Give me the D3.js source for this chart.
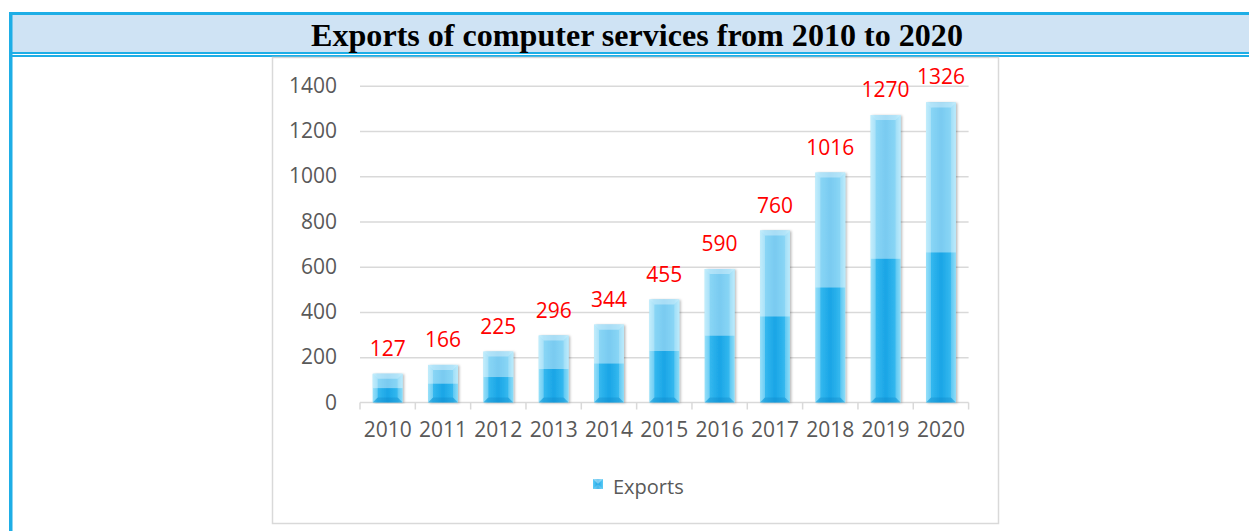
<!DOCTYPE html>
<html>
<head>
<meta charset="utf-8">
<script src="https://cdn.jsdelivr.net/npm/d3@7"></script>
<style>
  html, body { margin: 0; padding: 0; background: #ffffff; }
  svg { display: block; }
</style>
</head>
<body>
<svg id="chart" width="1249" height="531"></svg>
<script>
// Exports of computer services, yearly totals
const years = ["2010", "2011", "2012", "2013", "2014", "2015", "2016", "2017", "2018", "2019", "2020"];
const exportsValues = [127, 166, 225, 296, 344, 455, 590, 760, 1016, 1270, 1326];
const yTicks = [0, 200, 400, 600, 800, 1000, 1200, 1400];
const seriesName = "Exports";
const titleText = "Exports of computer services from 2010 to 2020";

const W = 1249, H = 531;
const BLUE = "#1eaee6";
const svg = d3.select("#chart");
const defs = svg.append("defs");

// ---- page frame: blue border, shaded title band, double rule ----
svg.append("rect").attr("x", 9).attr("y", 12).attr("width", W - 9).attr("height", H).attr("fill", "#ffffff");
svg.append("rect").attr("x", 12).attr("y", 15).attr("width", W - 12).attr("height", 37).attr("fill", "#cfe3f4");
svg.append("rect").attr("x", 9).attr("y", 12).attr("width", W - 9).attr("height", 3).attr("fill", BLUE);
svg.append("rect").attr("x", 9).attr("y", 12).attr("width", 3.5).attr("height", H).attr("fill", BLUE);
svg.append("rect").attr("x", 11).attr("y", 52).attr("width", W - 11).attr("height", 2).attr("fill", BLUE);
svg.append("rect").attr("x", 11).attr("y", 55).attr("width", W - 11).attr("height", 2).attr("fill", BLUE);

const title = svg.append("text")
  .attr("x", 637).attr("y", 46)
  .attr("text-anchor", "middle")
  .attr("font-family", "'Liberation Serif', 'Times New Roman', serif")
  .attr("font-weight", "bold")
  .attr("font-size", 30)
  .attr("fill", "#000000")
  .text(titleText);
const tw = title.node().getComputedTextLength();
title.attr("font-size", 30 * 652 / tw);

// ---- chart area box ----
svg.append("rect")
  .attr("x", 272.5).attr("y", 57.5).attr("width", 726).attr("height", 466)
  .attr("fill", "#ffffff").attr("stroke", "#d9d9d9").attr("stroke-width", 1.5);

// ---- scales ----
const x = d3.scaleBand().domain(years).range([360, 968.6]).paddingInner(0.46).paddingOuter(0.23);
const y = d3.scaleLinear().domain([0, 1400]).range([402.5, 85.7]);

const FONT = "'Open Sans', 'Noto Sans', sans-serif";
const TEXT_GREY = "#595959";
const FS = 21;

// gridlines + y labels
const yAxis = d3.axisLeft(y).tickValues(yTicks).tickSize(-(968.6 - 360)).tickPadding(23).tickFormat(d3.format("d"));
const gy = svg.append("g").attr("transform", "translate(360,0)").call(yAxis);
gy.select(".domain").remove();
gy.selectAll(".tick line").attr("stroke", "#d9d9d9").attr("stroke-width", 1.5);
gy.selectAll(".tick text").attr("fill", TEXT_GREY).attr("font-family", FONT).attr("font-size", FS);
gy.selectAll(".tick").filter(d => d === 0).select("line").remove();

// x axis with category boundary ticks
const gx = svg.append("g").attr("transform", `translate(0,${y(0)})`)
  .call(d3.axisBottom(x).tickSize(0).tickPadding(20));
gx.select(".domain").attr("stroke", "#d9d9d9").attr("stroke-width", 1.5)
  .attr("d", `M${x.range()[0]},0H${x.range()[1]}`);
gx.selectAll(".tick text").attr("fill", TEXT_GREY).attr("font-family", FONT).attr("font-size", FS);
const bounds = years.map(d => x(d) - x.step() * x.paddingInner() / 2).concat([x.range()[1]]);
bounds[0] = x.range()[0];
gx.selectAll(".bound").data(bounds).enter().append("line")
  .attr("class", "bound")
  .attr("x1", d => d).attr("x2", d => d).attr("y1", 0).attr("y2", 7)
  .attr("stroke", "#d9d9d9").attr("stroke-width", 1.5);

// ---- glossy bar gradients ----
const hGrad = defs.append("linearGradient").attr("id", "barH").attr("x1", 0).attr("x2", 1).attr("y1", 0).attr("y2", 0);
[["0%", "#6fd5f8"], ["16%", "#35b9ef"], ["50%", "#1aa5e6"], ["84%", "#35b9ef"], ["100%", "#6fd5f8"]]
  .forEach(([o, c]) => hGrad.append("stop").attr("offset", o).attr("stop-color", c));

const shadow = defs.append("filter").attr("id", "barShadow").attr("x", "-20%").attr("y", "-5%").attr("width", "140%").attr("height", "110%");
shadow.append("feDropShadow").attr("dx", 1.5).attr("dy", 0.5).attr("stdDeviation", 1.2)
  .attr("flood-color", "#000000").attr("flood-opacity", 0.28);

const bars = svg.append("g").selectAll("g.bar")
  .data(years.map((yr, i) => ({ yr, v: exportsValues[i] })))
  .enter().append("g").attr("class", "bar");

bars.each(function (d) {
  const g = d3.select(this);
  const x0 = x(d.yr), w = x.bandwidth();
  const y0 = y(d.v), h = y(0) - y(d.v);
  const b = Math.min(5, h / 3);
  g.append("rect").attr("x", x0).attr("y", y0).attr("width", w).attr("height", h)
    .attr("fill", "url(#barH)").attr("filter", "url(#barShadow)");
  // lighter upper half
  g.append("rect").attr("x", x0).attr("y", y0).attr("width", w).attr("height", h / 2)
    .attr("fill", "#ffffff").attr("opacity", 0.42);
  // bevel facets
  g.append("polygon")
    .attr("points", [[x0, y0], [x0 + w, y0], [x0 + w - b, y0 + b], [x0 + b, y0 + b]].join(" "))
    .attr("fill", "#ffffff").attr("opacity", 0.35);
  g.append("polygon")
    .attr("points", [[x0, y0], [x0 + b, y0 + b], [x0 + b, y0 + h - b], [x0, y0 + h]].join(" "))
    .attr("fill", "#ffffff").attr("opacity", 0.28);
  g.append("polygon")
    .attr("points", [[x0 + w, y0], [x0 + w - b, y0 + b], [x0 + w - b, y0 + h - b], [x0 + w, y0 + h]].join(" "))
    .attr("fill", "#ffffff").attr("opacity", 0.2);
  g.append("polygon")
    .attr("points", [[x0, y0 + h], [x0 + b, y0 + h - b], [x0 + w - b, y0 + h - b], [x0 + w, y0 + h]].join(" "))
    .attr("fill", "#0a7fbf").attr("opacity", 0.3);
});

// value labels
svg.append("g").selectAll("text")
  .data(years.map((yr, i) => ({ yr, v: exportsValues[i] })))
  .enter().append("text")
  .attr("x", d => x(d.yr) + x.bandwidth() / 2)
  .attr("y", d => y(d.v) - 18)
  .attr("text-anchor", "middle")
  .attr("font-family", FONT).attr("font-size", FS)
  .attr("fill", "#ff0000")
  .text(d => d.v);

// ---- legend ----
const lg = svg.append("g").attr("transform", "translate(593,479)");
const lgGrad = defs.append("linearGradient").attr("id", "legH").attr("x1", 0).attr("x2", 1);
[["0%", "#5ccbf6"], ["50%", "#1ba6e6"], ["100%", "#5ccbf6"]]
  .forEach(([o, c]) => lgGrad.append("stop").attr("offset", o).attr("stop-color", c));
lg.append("rect").attr("width", 10).attr("height", 10).attr("fill", "url(#legH)");
lg.append("polygon").attr("points", "0,0 10,0 5,5").attr("fill", "#ffffff").attr("opacity", 0.4);
lg.append("polygon").attr("points", "0,10 10,10 5,5").attr("fill", "#ffffff").attr("opacity", 0.2);
lg.append("text").attr("x", 20).attr("y", 14.5)
  .attr("font-family", FONT).attr("font-size", 20).attr("fill", TEXT_GREY)
  .text(seriesName);
</script>
</body>
</html>
